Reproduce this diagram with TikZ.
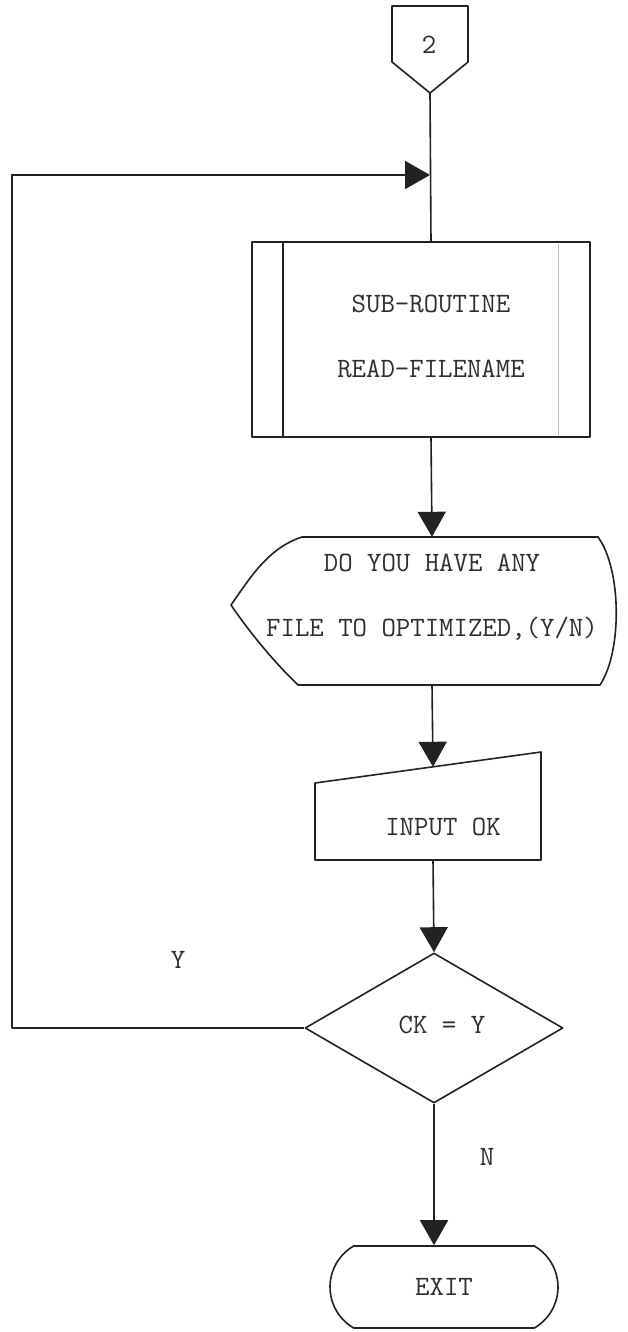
\documentclass[tikz,border=0pt]{standalone}
\usepackage{fontspec}
\usetikzlibrary{arrows.meta,shapes.geometric,shapes.misc}
\definecolor{ink}{HTML}{222222}
\definecolor{inkt}{HTML}{2E2E2E}
\newcommand\twfont{\fontsize{28}{65}\selectfont\ttfamily\addfontfeature{LetterSpace=3.6}}
\begin{document}
\begin{tikzpicture}[x=1pt,y=-1pt,
  ln/.style={draw=ink, line width=1.6pt, line join=round},
  arr/.style={ln, -{Triangle[length=25pt,width=28pt]}},
  hold/.style={rectangle, inner sep=0pt, minimum width=1pt, draw=none},
  txt/.style={text=inkt, font=\twfont, inner sep=0pt, align=center},
  dec/.style={diamond, ln, inner sep=0pt, minimum width=258pt, minimum height=150pt, aspect=1.72},
  term/.style={rounded rectangle, rounded rectangle arc length=120, ln, inner sep=0pt, minimum width=228pt, minimum height=82pt}
]
\useasboundingbox (0,0) rectangle (627,1332);
\fill[white] (0,0) rectangle (627,1332);

% off-page connector
\node[hold, minimum height=87pt] (c2) at (430,49.5) {};
\draw[ln] (392,6) -- (468,6) -- (468,62) -- (430,93) -- (392,62) -- cycle;
\node[txt] (c2t) at (429,45) {2};

% loop junction
\coordinate (J) at (430,175);

% subroutine
\node[hold, minimum height=195pt] (sub) at (431,339.5) {};
\draw[ln] (252,242) rectangle (590,437);
\draw[ln] (283,242) -- (283,437);
\draw[draw=gray!55, line width=0.9pt] (558,244) -- (558,435);
\node[txt] (subt) at (431,336.5) {SUB-ROUTINE\\READ-FILENAME};

% display
\node[hold, minimum height=148pt] (disp) at (432,611) {};
\draw[ln] (302,537) -- (598,537)
  .. controls (622,570) and (622,652) .. (600,685)
  -- (298,685)
  .. controls (272,660) and (248,630) .. (231,605)
  .. controls (250,578) and (268,548) .. cycle;
\node[txt] (dispt) at (432,597.5) {DO YOU HAVE ANY\\FILE TO OPTIMIZED,(Y/N)};

% manual input
\node[hold, minimum height=93pt] (man) at (433,813.5) {};
\draw[ln] (315,783) -- (541,752) -- (541,860) -- (315,860) -- cycle;
\node[txt] (mant) at (443,827) {INPUT OK};

% decision
\node[dec] (dia) at (434,1028) {};
\node[txt] (diat) at (442,1025) {CK = Y};

% terminator
\node[term] (exit) at (444,1287) {};
\node[txt] (exitt) at (444,1287) {EXIT};

% labels
\node[txt] (ly) at (178,960) {Y};
\node[txt] (ln) at (487,1157) {N};

% connectors
\draw[ln] (c2.south) -- (sub.north);
\draw[arr] (sub.south) -- (disp.north);
\draw[arr] (disp.south) -- (man.north);
\draw[arr] (man.south) -- (dia.north);
\draw[arr] (dia.south) -- (dia.south |- exit.north);
\draw[arr] (dia.west) -- ++(-292,0) |- (J);
\end{tikzpicture}
\end{document}
